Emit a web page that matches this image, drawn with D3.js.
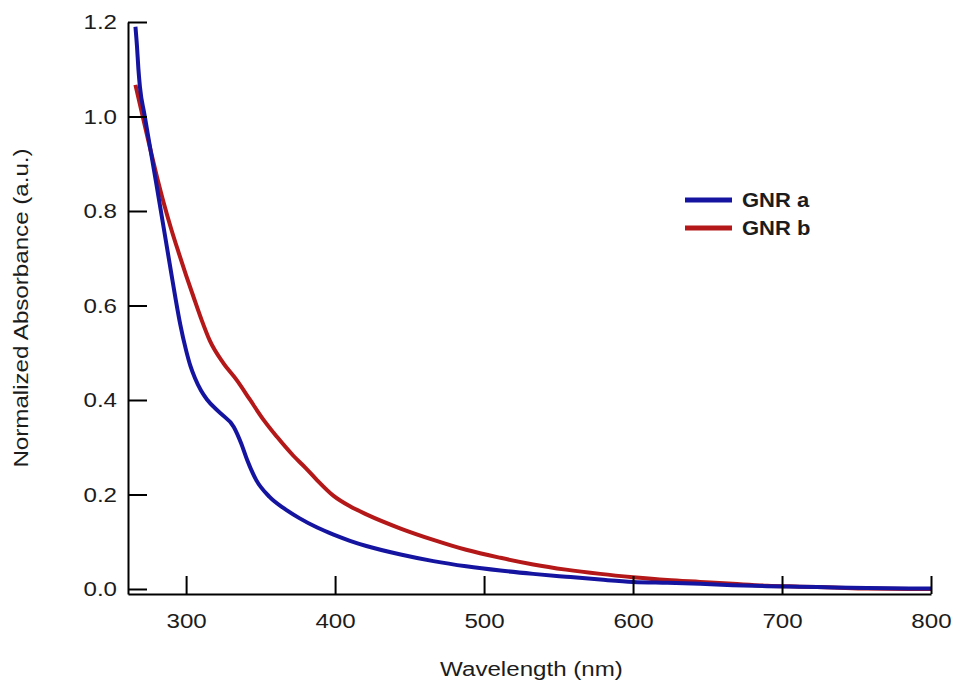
<!DOCTYPE html>
<html>
<head>
<meta charset="utf-8">
<script src="https://cdn.jsdelivr.net/npm/d3@7"></script>
<style>
  html, body { margin: 0; padding: 0; background: #fff; }
  svg { display: block; font-family: "Liberation Sans", Arial, Helvetica, sans-serif; }
</style>
</head>
<body>
<svg id="chart" width="955" height="682"></svg>
<script>
// UV-vis absorption spectra of two graphene nanoribbon samples
const wavelengthA = [266, 267, 268, 269, 272, 280, 290, 293, 296, 300, 303, 306, 310, 314, 323, 332, 337, 341, 347, 356, 366, 376, 388, 399, 410, 421, 444, 466, 488, 511, 533, 555, 578, 600, 623, 645, 667, 690, 712, 735, 757, 800];
const absorbanceA = [1.19, 1.15, 1.10, 1.063, 1.005, 0.858, 0.669, 0.613, 0.561, 0.505, 0.471, 0.446, 0.420, 0.401, 0.372, 0.343, 0.308, 0.273, 0.231, 0.195, 0.170, 0.150, 0.130, 0.115, 0.102, 0.091, 0.073, 0.059, 0.048, 0.039, 0.032, 0.026, 0.020, 0.015, 0.013, 0.011, 0.008, 0.006, 0.005, 0.003, 0.002, 0.001];

const wavelengthB = [266, 270, 275, 280, 285, 290, 295, 300, 305, 310, 316, 325, 334, 343, 352, 361, 372, 380, 388, 399, 410, 421, 444, 466, 488, 511, 533, 555, 578, 600, 623, 645, 667, 690, 712, 735, 757, 800];
const absorbanceB = [1.067, 1.012, 0.944, 0.878, 0.817, 0.762, 0.712, 0.664, 0.618, 0.573, 0.525, 0.478, 0.442, 0.400, 0.358, 0.322, 0.282, 0.257, 0.230, 0.197, 0.175, 0.158, 0.128, 0.104, 0.083, 0.066, 0.052, 0.041, 0.032, 0.025, 0.019, 0.015, 0.011, 0.007, 0.005, 0.003, 0.001, 0.0];

const seriesNames = ["GNR a", "GNR b"];
const seriesColors = ["#1414a0", "#b41818"];

const xTicks = [300, 400, 500, 600, 700, 800];
const yTicks = [0.0, 0.2, 0.4, 0.6, 0.8, 1.0, 1.2];

const xTitle = "Wavelength (nm)";
const yTitle = "Normalized Absorbance (a.u.)";

// plot frame
const frame = { left: 128, right: 931, top: 22, bottom: 594 };
const textScale = 1.15;
const ink = "#1c1c1c";

const svg = d3.select("#chart");
svg.append("rect").attr("width", 955).attr("height", 682).attr("fill", "#fff");

const x = d3.scaleLinear().domain([261, 800]).range([frame.left, frame.right]);
const y = d3.scaleLinear().domain([-0.0106, 1.2]).range([frame.bottom, frame.top]);

// spectra
const line = d3.line()
  .x(d => x(d[0]))
  .y(d => y(d[1]))
  .curve(d3.curveMonotoneX);

const dataA = wavelengthA.map((w, i) => [w, absorbanceA[i]]);
const dataB = wavelengthB.map((w, i) => [w, absorbanceB[i]]);

svg.append("path").datum(dataB)
  .attr("d", line).attr("fill", "none")
  .attr("stroke", seriesColors[1]).attr("stroke-width", 4)
  .attr("stroke-linejoin", "round");

svg.append("path").datum(dataA)
  .attr("d", line).attr("fill", "none")
  .attr("stroke", seriesColors[0]).attr("stroke-width", 4)
  .attr("stroke-linejoin", "round");

// axes with inward ticks
const xAxis = d3.axisBottom(x)
  .tickValues(xTicks)
  .tickFormat(d3.format("d"))
  .tickSizeInner(-18)
  .tickSizeOuter(0)
  .tickPadding(19);

const yAxis = d3.axisLeft(y)
  .tickValues(yTicks)
  .tickFormat(d3.format(".1f"))
  .tickSizeInner(-19)
  .tickSizeOuter(0)
  .tickPadding(11 / textScale);

function styleAxis(g) {
  g.select(".domain").attr("stroke", "#000").attr("stroke-width", 2);
  g.selectAll(".tick line").attr("stroke", "#000").attr("stroke-width", 2);
  g.selectAll(".tick text")
    .attr("fill", ink)
    .attr("font-size", 21)
    .attr("font-family", "Liberation Sans, Arial, sans-serif")
    .attr("transform", `scale(${textScale},1)`);
}

svg.append("g")
  .attr("transform", `translate(0,${frame.bottom})`)
  .call(xAxis)
  .call(styleAxis);

svg.append("g")
  .attr("transform", `translate(${frame.left},0)`)
  .call(yAxis)
  .call(styleAxis);

// axis titles
svg.append("text")
  .attr("transform", `translate(${(frame.left + frame.right) / 2 + 2},676) scale(${textScale},1)`)
  .attr("text-anchor", "middle")
  .attr("font-size", 21)
  .attr("fill", ink)
  .text(xTitle);

svg.append("text")
  .attr("transform", `translate(28,308) rotate(-90) scale(${textScale},1)`)
  .attr("text-anchor", "middle")
  .attr("font-size", 21)
  .attr("fill", ink)
  .text(yTitle);

// legend
const legend = svg.append("g").attr("transform", "translate(685,200)");
seriesNames.forEach((name, i) => {
  const row = legend.append("g").attr("transform", `translate(0,${i * 28})`);
  row.append("line")
    .attr("x1", 0).attr("x2", 47)
    .attr("y1", 0).attr("y2", 0)
    .attr("stroke", seriesColors[i]).attr("stroke-width", 5);
  row.append("text")
    .attr("transform", `translate(57,7) scale(1.1,1)`)
    .attr("font-size", 20)
    .attr("font-weight", "bold")
    .attr("fill", ink)
    .text(name);
});
</script>
</body>
</html>
